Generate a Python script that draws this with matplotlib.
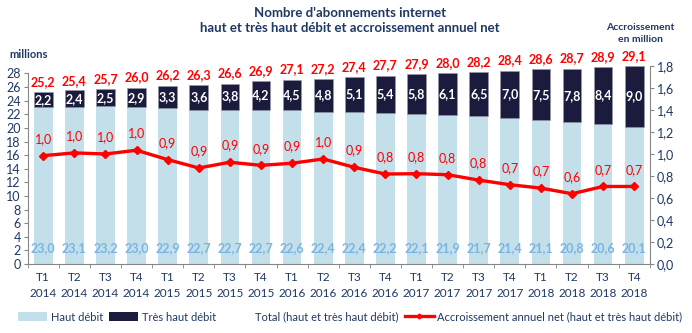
import numpy as np
import matplotlib
matplotlib.use("Agg")
import matplotlib.pyplot as plt
from matplotlib.patches import Patch
from matplotlib.lines import Line2D

plt.rcParams["font.family"] = ["Lato", "DejaVu Sans"]

quarters = ["T1", "T2", "T3", "T4"] * 5
years = [y for y in ["2014", "2015", "2016", "2017", "2018"] for _ in range(4)]
haut_debit = [23.0, 23.1, 23.2, 23.0, 22.9, 22.7, 22.7, 22.7, 22.6, 22.4,
              22.4, 22.2, 22.1, 21.9, 21.7, 21.4, 21.1, 20.8, 20.6, 20.1]
tres_haut_debit = [2.2, 2.4, 2.5, 2.9, 3.3, 3.6, 3.8, 4.2, 4.5, 4.8,
                   5.1, 5.4, 5.8, 6.1, 6.5, 7.0, 7.5, 7.8, 8.4, 9.0]
total = [25.2, 25.4, 25.7, 26.0, 26.2, 26.3, 26.6, 26.9, 27.1, 27.2,
         27.4, 27.7, 27.9, 28.0, 28.2, 28.4, 28.6, 28.7, 28.9, 29.1]
accroissement = [0.985, 1.01, 1.00, 1.034, 0.949, 0.873, 0.925, 0.897, 0.916, 0.955,
                 0.879, 0.818, 0.821, 0.812, 0.763, 0.721, 0.690, 0.639, 0.705, 0.705]
accroissement_lbl = [1.0, 1.0, 1.0, 1.0, 0.9, 0.9, 0.9, 0.9, 0.9, 1.0,
                     0.9, 0.8, 0.8, 0.8, 0.8, 0.7, 0.7, 0.6, 0.7, 0.7]

NAVY = "#1F3864"
LIGHT = "#C3E0EA"
DARK = "#1B1B3D"
RED = "#FF0000"
GRID = "#868686"


def fr(v):
    return f"{v:.1f}".replace(".", ",")


fig = plt.figure(figsize=(6.92, 3.33), dpi=100)
ax = fig.add_axes([0.040, 0.207, 0.899, 0.595])
x = np.arange(len(haut_debit))

ax.bar(x, haut_debit, width=0.6, color=LIGHT, zorder=2)
ax.bar(x, tres_haut_debit, bottom=haut_debit, width=0.6, color=DARK,
       edgecolor="#9A9AA8", linewidth=0.4, zorder=2)
ax.set_ylim(0, 29.1)
ax.set_xlim(-0.5, len(x) - 0.5)

for i in x:
    ax.annotate(fr(haut_debit[i]), (i, 0), xytext=(0, 11.5), textcoords="offset points",
                ha="center", va="center", color="#79B4E4", fontsize=9, fontweight="bold")
    ax.annotate(fr(tres_haut_debit[i]), (i, haut_debit[i] + tres_haut_debit[i] / 2),
                ha="center", va="center", color="white", fontsize=9, fontweight="bold")
    ax.annotate(fr(total[i]), (i, total[i]), xytext=(0, 3), textcoords="offset points",
                ha="center", va="bottom", color=RED, fontsize=9, fontweight="bold",
                annotation_clip=False)

ax.set_yticks(range(0, 29, 2))
ax.spines["left"].set_bounds(0, 28)
ax.spines["top"].set_visible(False)
ax.spines["right"].set_visible(False)
for s in ["left", "bottom"]:
    ax.spines[s].set_color(GRID)
ax.tick_params(axis="y", colors=GRID, labelcolor=NAVY, labelsize=9, length=3, pad=2)
ax.set_xticks(x)
ax.set_xticklabels([f"{q}\n{y}" for q, y in zip(quarters, years)], linespacing=1.5)
ax.set_xticks(np.arange(-0.5, len(x), 1), minor=True)
ax.tick_params(axis="x", which="major", length=0, labelcolor=NAVY, labelsize=8.5, pad=6)
ax.tick_params(axis="x", which="minor", length=3, color=GRID)

ax2 = ax.twinx()
ax2.plot(x, accroissement, color=RED, linewidth=2.4, marker="D", markersize=4.5, zorder=5)
ax2.set_ylim(0, 1.8)
ax2.set_yticks(np.arange(0, 1.81, 0.2))
ax2.set_yticklabels([fr(v) for v in np.arange(0, 1.81, 0.2)])
for s in ["left", "top", "bottom"]:
    ax2.spines[s].set_visible(False)
ax2.spines["right"].set_color(GRID)
ax2.tick_params(axis="y", colors=GRID, labelcolor=NAVY, labelsize=9, length=3, pad=2)
for i in x:
    ax2.annotate(fr(accroissement_lbl[i]), (i, accroissement[i]), xytext=(0, 12),
                 textcoords="offset points", ha="center", va="center",
                 color=RED, fontsize=9)

fig.text(0.506, 0.962, "Nombre d'abonnements internet", ha="center", va="center",
         color=NAVY, fontsize=9.5, fontweight="bold")
fig.text(0.506, 0.915, "haut et très haut débit et accroissement annuel net", ha="center",
         va="center", color=NAVY, fontsize=9.5, fontweight="bold")
fig.text(0.013, 0.835, "millions", ha="left", va="center", color=NAVY, fontsize=8,
         fontweight="bold")
fig.text(0.925, 0.90, "Accroissement\nen million", ha="center", va="center", color=NAVY,
         fontsize=7.5, fontweight="bold", linespacing=1.5)

handles = [
    Patch(facecolor=LIGHT),
    Patch(facecolor=DARK),
    Line2D([], [], color="none"),
    Line2D([], [], color=RED, linewidth=2.4, marker="D", markersize=2.5),
]
labels = ["Haut débit", "Très haut débit", "Total (haut et très haut débit)",
          "Accroissement annuel net (haut et très haut débit)"]
fig.legend(handles, labels, loc="center left", bbox_to_anchor=(0.012, 0.048), ncol=4,
           frameon=False, fontsize=8, handlelength=2.6, handleheight=0.8,
           handletextpad=0.3, columnspacing=0.6, labelcolor=NAVY)

fig.savefig("out.png", dpi=100)
